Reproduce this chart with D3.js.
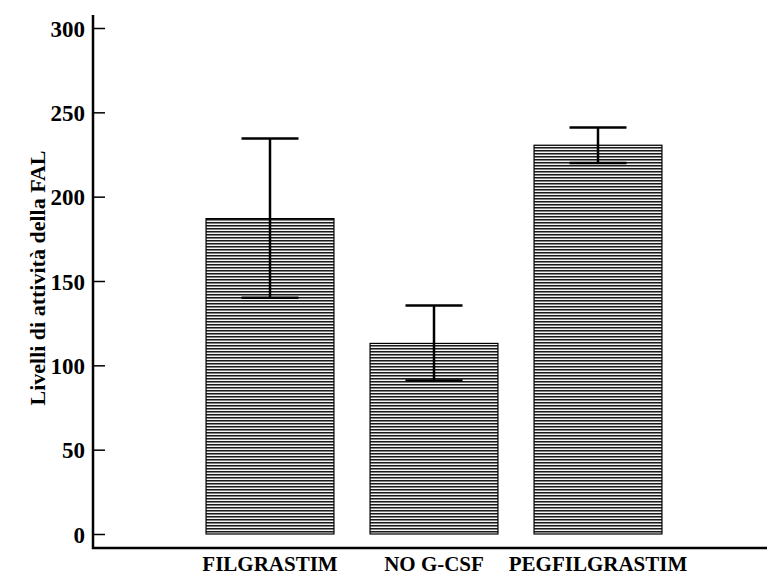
<!DOCTYPE html>
<html>
<head>
<meta charset="utf-8">
<script src="https://cdn.jsdelivr.net/npm/d3@7"></script>
<style>
  body { margin: 0; background: #fff; }
  text { font-family: "Liberation Serif", "Times New Roman", serif; font-weight: bold; fill: #000; }
</style>
</head>
<body>
<svg id="chart" width="767" height="577"></svg>
<script>
// values
var groups = ["FILGRASTIM", "NO G-CSF", "PEGFILGRASTIM"];
var means  = [187, 113, 230.5];
var upper  = [234.5, 135.5, 241];
var lower  = [140, 91, 220];
var yTicks = [0, 50, 100, 150, 200, 250, 300];

var svg = d3.select("#chart");

var axisX = 93, axisBottom = 548, axisTop = 15;

var x = d3.scaleBand()
  .domain(groups)
  .range([188, 680])
  .paddingInner(0.22)
  .paddingOuter(0.11);

var y = d3.scaleLinear()
  .domain([0, 300])
  .range([534, 28]);

// horizontal line hatching for the bars
var defs = svg.append("defs");
var pat = defs.append("pattern")
  .attr("id", "hatch")
  .attr("patternUnits", "userSpaceOnUse")
  .attr("width", 6).attr("height", 3);
pat.append("rect").attr("width", 6).attr("height", 3).attr("fill", "#f4f4f4");
pat.append("rect").attr("y", 0).attr("width", 6).attr("height", 1).attr("fill", "#1a1a1a");
pat.append("rect").attr("y", 1).attr("width", 6).attr("height", 1).attr("fill", "#808080");

// bars
svg.selectAll("rect.bar")
  .data(groups)
  .enter().append("rect")
  .attr("class", "bar")
  .attr("x", function(d) { return x(d); })
  .attr("width", x.bandwidth())
  .attr("y", function(d, i) { return y(means[i]); })
  .attr("height", function(d, i) { return y(0) - y(means[i]); })
  .attr("fill", "url(#hatch)")
  .attr("stroke", "#000")
  .attr("stroke-width", 1.2);

// error bars
var capW = 57;
groups.forEach(function(g, i) {
  var cx = x(g) + x.bandwidth() / 2;
  var eb = svg.append("g").attr("stroke", "#000").attr("stroke-width", 2.5);
  eb.append("line").attr("x1", cx).attr("x2", cx).attr("y1", y(upper[i])).attr("y2", y(lower[i]));
  eb.append("line").attr("x1", cx - capW / 2).attr("x2", cx + capW / 2).attr("y1", y(upper[i])).attr("y2", y(upper[i]));
  eb.append("line").attr("x1", cx - capW / 2).attr("x2", cx + capW / 2).attr("y1", y(lower[i])).attr("y2", y(lower[i]));
});

// y axis with inward ticks
var yAxis = d3.axisRight(y).tickValues(yTicks).tickSize(12).tickPadding(0).tickFormat("");
var ga = svg.append("g").attr("transform", "translate(" + axisX + ",0)").call(yAxis);
ga.select(".domain").remove();
ga.selectAll(".tick line").attr("stroke", "#000").attr("stroke-width", 1.5);

ga.selectAll(".tick").append("text")
  .attr("x", -8)
  .attr("dy", "0.35em")
  .attr("text-anchor", "end")
  .style("font-size", "23px")
  .text(function(d) { return d; });

// axis lines
svg.append("line")
  .attr("x1", axisX).attr("x2", axisX)
  .attr("y1", axisTop).attr("y2", axisBottom + 1)
  .attr("stroke", "#000").attr("stroke-width", 2.5);
svg.append("line")
  .attr("x1", axisX - 1).attr("x2", 767)
  .attr("y1", axisBottom).attr("y2", axisBottom)
  .attr("stroke", "#000").attr("stroke-width", 2.5);

// category labels
svg.selectAll("text.cat")
  .data(groups)
  .enter().append("text")
  .attr("class", "cat")
  .attr("x", function(d) { return x(d) + x.bandwidth() / 2; })
  .attr("y", 571)
  .attr("text-anchor", "middle")
  .style("font-size", "21px")
  .text(function(d) { return d; });

// y label
svg.append("text")
  .attr("transform", "translate(45,278) rotate(-90)")
  .attr("text-anchor", "middle")
  .style("font-size", "22px")
  .text("Livelli di attività della FAL");
</script>
</body>
</html>
